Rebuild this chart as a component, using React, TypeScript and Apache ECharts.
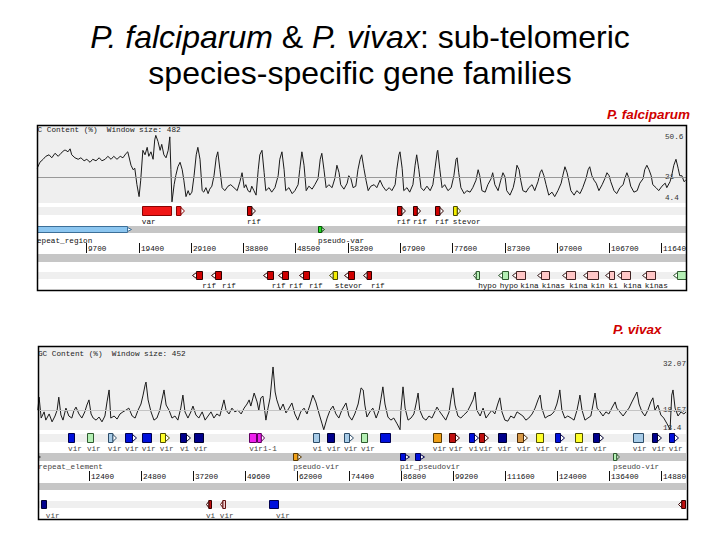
import { useEffect, useRef } from 'react';
import * as echarts from 'echarts';

// ================= P. falciparum (positions in kb, GC in %) =================
const falcGC: number[][] = [
  [0.6,27],[1.1,31],[1.7,33],[2.2,35],[2.8,36],[3.3,34],[3.9,37],[4.5,35],[5.0,37],[5.6,39],[5.9,39],[6.3,38],[6.7,40],[7.0,36],
  [7.6,34],[8.2,33],[8.7,34],[9.3,32],[9.8,33],[10.4,31],[10.9,33],[11.5,32],[12.1,34],[12.6,32],[13.2,33],[13.7,35],[14.3,33],
  [14.8,35],[15.4,33],[16.0,35],[16.5,34],[17.1,37],[17.4,38],[18.0,29],[18.4,26],[18.7,27],[19.1,16],[19.5,8],[19.8,19],[20.2,39],
  [20.6,36],[21.0,41],[21.3,35],[21.7,38],[22.1,33],[22.4,46],[22.6,49],[23.0,45],[23.4,39],[23.7,43],[24.1,36],[24.5,34],[24.9,39],
  [25.2,48],[25.4,26],[25.6,4.5],[26.0,16],[26.3,22],[26.7,28],[27.1,31],[27.5,26],[27.8,19],[28.2,8],[28.6,12],[28.9,9],[29.3,11],
  [29.7,22],[30.1,36],[30.4,41],[30.8,33],[31.2,12],[31.5,11],[31.9,14],[32.3,10],[32.6,13],[33.0,15],[33.4,22],[33.8,34],[34.1,38],
  [34.5,26],[34.9,14],[35.4,12],[36.0,15],[36.5,16],[37.1,14],[37.7,12],[38.2,18],[38.6,24],[39.0,14],[39.3,16],[39.7,12],[40.1,11],
  [40.4,15],[40.8,12],[41.2,9],[41.6,26],[41.9,36],[42.3,39],[42.7,24],[43.0,12],[43.6,14],[44.1,11],[44.7,14],[45.3,22],[45.6,33],
  [46.0,38],[46.4,26],[46.7,12],[47.3,14],[47.9,10],[48.4,12],[49.0,16],[49.3,26],[49.7,38],[50.1,29],[50.5,12],[51.0,15],[51.6,13],
  [52.1,16],[52.7,20],[53.1,33],[53.4,37],[53.8,26],[54.2,14],[54.7,16],[55.3,14],[55.8,20],[56.2,29],[56.6,24],[56.9,16],[57.5,13],
  [58.1,17],[58.4,22],[58.8,20],[59.2,14],[59.7,15],[60.1,26],[60.5,33],[60.8,36],[61.2,27],[61.6,19],[62.0,12],[62.5,15],[63.1,16],
  [63.6,14],[64.2,19],[64.7,15],[65.3,12],[65.9,14],[66.4,12],[67.0,16],[67.3,26],[67.7,36],[67.9,38],[68.3,27],[68.6,12],[69.2,14],
  [69.7,11],[70.3,16],[70.7,29],[71.0,36],[71.4,26],[71.8,14],[72.3,12],[72.9,15],[73.5,12],[74.0,16],[74.4,27],[74.8,38],[74.9,39],
  [75.3,26],[75.7,14],[76.2,16],[76.8,12],[77.4,14],[77.9,22],[78.3,33],[78.5,34],[78.8,24],[79.2,14],[79.8,10],[80.3,12],[80.9,11],
  [81.4,14],[82.0,19],[82.4,26],[82.7,22],[83.1,12],[83.7,11],[84.2,16],[84.8,20],[85.1,24],[85.5,16],[86.1,12],[86.6,19],[87.0,24],
  [87.4,21],[87.7,12],[88.3,9],[88.9,14],[89.2,19],[89.6,29],[90.0,26],[90.3,19],[90.7,12],[91.3,11],[91.8,14],[92.4,16],[92.9,12],
  [93.5,18],[93.9,24],[94.2,26],[94.6,22],[95.0,16],[95.5,9],[96.1,11],[96.6,8],[97.2,12],[97.8,17],[98.1,22],[98.5,28],[98.9,24],
  [99.2,19],[99.6,12],[100.2,9],[100.7,12],[101.3,10],[101.8,14],[102.4,20],[102.8,26],[103.1,28],[103.5,22],[103.9,19],[104.3,17],
  [104.8,12],[105.4,16],[105.9,20],[106.3,24],[106.7,22],[107.0,18],[107.6,12],[108.1,10],[108.7,14],[109.3,16],[109.6,20],[110.0,24],
  [110.4,20],[110.7,15],[111.3,11],[111.9,12],[112.4,17],[113.0,20],[113.3,26],[113.7,29],[114.1,26],[114.5,22],[114.8,16],[115.4,14],
  [115.9,12],[116.5,15],[117.1,17],[117.4,14],[118.0,18],[118.3,22],[118.7,29],[119.1,33],[119.5,27],[119.8,22],[120.2,22],[120.6,18],
  [120.9,19]
];
const falcGCScale = [50.6, 21, 4.4]; // max, average, min
const falcTicks = [9700, 19400, 29100, 38800, 48500, 58200, 67900, 77600, 87300, 97000, 106700, 116400];
// [start kb, end kb, track, family, arrow]
const falcFeatures: any[][] = [
  [20.0, 25.4, 'F', 'var', 0], [26.3, 27.8, 'F', 'var', 1], [39.5, 41.0, 'F', 'rif', 1],
  [67.3, 68.8, 'F', 'rif', 1], [70.3, 71.6, 'F', 'rif', 1], [74.4, 75.9, 'F', 'rif', 1], [77.7, 79.0, 'F', 'stevor', 1],
  [-1.0, 18.0, 'S', 'repeat', 1], [52.7, 53.8, 'S', 'pvar', 1],
  [29.3, 31.2, 'R', 'rif', 1], [32.8, 34.7, 'R', 'rif', 1], [42.5, 44.3, 'R', 'rif', 1], [45.3, 47.1, 'R', 'rif', 1],
  [49.2, 51.0, 'R', 'rif', 1], [54.7, 56.2, 'R', 'stevor', 1], [57.5, 59.4, 'R', 'rif', 1], [61.0, 62.5, 'R', 'rif', 1],
  [81.4, 82.5, 'R', 'hypo', 1], [86.1, 87.9, 'R', 'hypo', 1], [88.7, 91.1, 'R', 'kina', 1], [93.3, 95.5, 'R', 'kina', 1],
  [97.9, 100.4, 'R', 'kina', 1], [101.8, 104.6, 'R', 'kina', 1], [105.9, 107.6, 'R', 'kina', 1], [108.1, 110.5, 'R', 'kina', 1],
  [112.8, 115.2, 'R', 'kina', 1], [118.5, 121.5, 'R', 'hypo', 1]
];
// [kb, text, track]
const falcLabels: any[][] = [
  [20.0, 'var', 'F'], [39.5, 'rif', 'F'], [67.3, 'rif', 'F'], [70.3, 'rif', 'F'], [74.4, 'rif', 'F'], [77.7, 'stevor', 'F'],
  [-0.3, 'repeat_region', 'S'], [52.7, 'pseudo-var', 'S'],
  [31.2, 'rif', 'R'], [34.9, 'rif', 'R'], [44.1, 'rif', 'R'], [47.3, 'rif', 'R'], [51.0, 'rif', 'R'], [55.8, 'stevor', 'R'],
  [62.5, 'rif', 'R'], [82.4, 'hypo', 'R'], [86.4, 'hypo', 'R'], [90.2, 'kina', 'R'], [94.2, 'kinas', 'R'], [99.3, 'kina', 'R'],
  [103.3, 'kin', 'R'], [106.6, 'ki', 'R'], [109.3, 'kina', 'R'], [113.3, 'kinas', 'R']
];

// ================= P. vivax =================
const vivaxGC: number[][] = [
  [0.2,18.6],[0.5,22.4],[1.0,16.3],[1.7,18.1],[2.1,15.7],[2.9,17.5],[3.6,15.2],[4.3,16.9],[4.8,18.6],[5.2,22.4],[5.7,17.2],[6.2,15.7],
  [6.9,19.2],[7.6,16.9],[8.3,16.3],[8.8,18.4],[9.3,19.5],[10.0,17.5],[10.7,16.3],[11.4,18.1],[11.9,20.1],[12.4,21.6],[12.9,17.5],
  [13.4,16.3],[14.1,15.7],[14.8,16.6],[15.5,15.2],[16.2,16.9],[16.7,21.0],[17.2,24.5],[17.6,16.3],[18.4,16.9],[19.1,16.0],[19.8,17.5],
  [20.5,18.1],[21.2,18.6],[21.9,19.2],[22.7,16.9],[23.4,16.3],[24.1,18.6],[24.8,20.4],[25.3,23.0],[25.8,26.0],[26.0,26.8],[26.5,21.6],
  [27.2,18.1],[27.9,15.7],[28.6,16.3],[29.3,18.6],[29.8,21.6],[30.3,24.5],[30.8,20.1],[31.5,18.6],[32.2,16.3],[32.9,16.9],[33.6,15.7],
  [34.3,19.2],[34.8,23.0],[35.3,18.1],[36.0,16.3],[36.7,18.1],[37.2,19.8],[37.9,17.2],[38.6,16.3],[39.4,18.1],[40.1,15.7],[40.8,16.9],
  [41.5,18.1],[42.2,16.3],[42.9,17.5],[43.6,16.9],[44.1,19.2],[44.6,21.6],[45.1,18.6],[45.8,17.5],[46.5,19.2],[47.2,18.1],[47.9,18.6],
  [48.7,17.5],[49.4,19.2],[50.1,20.4],[50.6,21.6],[51.0,19.8],[51.8,23.6],[52.5,21.0],[52.9,18.6],[53.4,22.2],[53.9,22.7],[54.6,15.7],
  [55.1,19.2],[55.6,22.2],[56.0,27.4],[56.3,31.2],[56.8,23.9],[57.2,21.6],[58.0,18.6],[58.7,20.4],[59.4,17.8],[60.1,19.2],[60.8,20.7],
  [61.5,17.5],[62.2,15.7],[62.9,18.1],[63.7,19.2],[64.4,17.5],[65.1,20.1],[65.8,23.0],[66.5,21.0],[67.3,17.5],[68.0,14.6],[68.4,12.9],
  [69.2,16.3],[69.9,18.6],[70.6,19.8],[71.3,17.5],[72.0,16.3],[72.7,18.6],[73.7,20.7],[74.4,16.9],[75.1,15.7],[75.8,17.5],[76.6,20.4],
  [77.3,25.1],[77.8,24.5],[78.2,20.1],[78.7,16.6],[79.4,18.1],[80.1,19.2],[80.9,16.3],[81.6,18.6],[82.0,21.6],[82.5,25.4],[83.0,20.4],
  [83.7,16.6],[84.4,15.7],[85.1,16.3],[85.9,14.6],[86.6,12.9],[86.8,18.6],[87.3,25.4],[87.8,19.2],[88.5,15.7],[89.2,16.3],[89.9,17.5],
  [90.4,20.4],[90.9,23.6],[91.3,18.6],[92.1,16.3],[92.8,15.7],[93.5,16.9],[94.2,16.3],[94.9,18.1],[95.4,19.5],[96.1,18.1],[96.8,16.9],
  [97.5,15.7],[98.3,18.1],[98.7,21.6],[99.2,25.1],[99.7,20.1],[100.4,16.9],[101.1,16.3],[101.8,17.2],[102.6,18.1],[103.3,19.8],
  [104.0,21.6],[104.5,23.9],[104.9,18.6],[105.7,16.9],[106.4,19.2],[107.1,16.3],[107.8,17.5],[108.5,18.6],[109.2,17.5],[109.9,20.4],
  [110.4,22.2],[110.9,18.1],[111.6,15.7],[112.3,15.4],[113.0,16.9],[113.8,16.3],[114.5,18.1],[115.2,17.5],[115.9,16.9],[116.6,15.7],
  [117.3,16.3],[118.1,17.5],[118.8,19.2],[119.5,21.6],[120.0,23.0],[120.4,19.2],[121.2,16.3],[121.9,16.9],[122.6,17.2],[123.3,18.1],
  [124.0,20.4],[124.5,23.0],[124.7,24.5],[125.2,18.6],[125.9,16.3],[126.6,16.9],[127.4,16.3],[128.1,15.7],[128.8,18.6],[129.3,21.6],
  [129.5,23.0],[130.0,18.6],[130.7,15.7],[131.4,16.3],[132.1,16.9],[132.6,20.1],[133.1,23.6],[133.6,19.2],[134.3,18.1],[135.0,16.9],
  [135.7,18.1],[136.4,17.5],[137.1,19.2],[137.9,21.0],[138.3,19.2],[139.0,18.1],[139.8,16.9],[140.5,18.1],[141.2,19.2],[141.9,21.0],
  [142.6,22.7],[143.1,23.9],[143.6,20.4],[144.3,18.1],[145.0,16.9],[145.7,18.6],[146.4,21.0],[146.9,22.2],[147.4,18.6],[148.1,20.1],
  [148.8,17.2],[149.5,16.3],[150.3,14.6],[151.0,12.9],[151.4,23.0],[151.7,24.5],[152.2,19.2],[152.9,16.9],[153.6,18.1],[154.3,17.5],
  [154.8,18.1]
];
const vivaxGCScale = [32.07, 18.57, 13.4];
const vivaxTicks = [12400, 24800, 37200, 49600, 62000, 74400, 86800, 99200, 111600, 124000, 136400, 148800];
const vivaxFeatures: any[][] = [
  [7.4, 8.8, 'F', 'blue', 0], [11.9, 13.4, 'F', 'lgreen', 0], [16.9, 18.8, 'F', 'lblue', 1], [21.0, 23.6, 'F', 'blue', 1],
  [25.0, 27.2, 'F', 'blue', 0], [29.3, 31.5, 'F', 'yellow', 1], [34.1, 36.5, 'F', 'navy', 1], [37.4, 39.6, 'F', 'navy', 0],
  [50.6, 52.2, 'F', 'magenta', 0], [52.5, 54.1, 'F', 'magenta', 1], [65.8, 67.3, 'F', 'lblue', 0], [69.2, 70.8, 'F', 'navy', 0],
  [73.2, 75.4, 'F', 'lblue', 1], [77.3, 78.7, 'F', 'lgreen', 0], [81.8, 84.2, 'F', 'blue', 0], [94.4, 96.4, 'F', 'orange', 0],
  [98.3, 100.6, 'F', 'dred', 1], [103.0, 105.2, 'F', 'blue', 1], [105.4, 107.6, 'F', 'dred', 1], [109.9, 111.9, 'F', 'navy', 0],
  [114.5, 116.9, 'F', 'tan', 1], [119.0, 120.7, 'F', 'yellow', 0], [123.5, 125.7, 'F', 'blue', 1], [128.3, 130.0, 'F', 'yellow', 0],
  [132.6, 135.0, 'F', 'navy', 1], [142.1, 144.5, 'F', 'lblue', 0], [146.7, 148.8, 'F', 'navy', 1], [150.7, 152.9, 'F', 'blue', 1],
  [-2.0, 0.7, 'S', 'white', 1], [61.1, 63.0, 'S', 'orange', 1], [86.6, 88.7, 'S', 'blue', 1], [90.2, 92.3, 'S', 'blue', 1],
  [137.4, 138.8, 'S', 'lgreen', 1],
  [1.0, 2.1, 'R', 'navy', 0], [40.3, 41.5, 'R', 'dred', 1], [43.6, 44.8, 'R', 'pred', 1], [55.3, 57.5, 'R', 'blue', 0],
  [152.9, 154.5, 'R', 'dred', 1]
];
const vivaxLabels: any[][] = [
  [7.4, 'vir', 'F'], [11.9, 'vir', 'F'], [16.9, 'vir', 'F'], [21.0, 'vir', 'F'], [25.0, 'vir', 'F'], [29.3, 'vir', 'F'],
  [34.1, 'vi', 'F'], [37.4, 'vir', 'F'], [50.6, 'vir1-1', 'F'], [65.8, 'vi', 'F'], [69.2, 'vir', 'F'], [73.2, 'vir', 'F'],
  [77.3, 'vir', 'F'], [94.4, 'vir', 'F'], [98.3, 'vir', 'F'], [103.0, 'vi', 'F'], [105.4, 'vir', 'F'], [109.9, 'vir', 'F'],
  [114.5, 'vir', 'F'], [119.0, 'vir', 'F'], [123.5, 'vir', 'F'], [128.3, 'vir', 'F'], [132.6, 'vir', 'F'], [142.1, 'vir', 'F'],
  [146.7, 'vir', 'F'], [150.7, 'vir', 'F'],
  [0.3, 'repeat_element', 'S'], [61.1, 'pseudo-vir', 'S'], [86.6, 'pir_pseudovir', 'S'], [137.4, 'pseudo-vir', 'S'],
  [2.1, 'vir', 'R'], [40.3, 'vi', 'R'], [43.6, 'vir', 'R'], [57.0, 'vir', 'R']
];

// ================= styles =================
const FAMILY: Record<string, string[]> = {
  var: ['#f01616', '#8a0000'], rif: ['#d00000', '#300000'], stevor: ['#f4ee00', '#4a4a00'],
  repeat: ['#8cc6f0', '#3c6f98'], pvar: ['#22dd22', '#005500'], hypo: ['#b4f0b4', '#2f5a2f'],
  kina: ['#ffc6c6', '#402222'], blue: ['#0010dc', '#000050'], navy: ['#00008c', '#000030'],
  lblue: ['#a8cce8', '#2c4c68'], lgreen: ['#b4f0b4', '#2f5a2f'], yellow: ['#ffff2a', '#505000'],
  magenta: ['#ee22ee', '#600060'], orange: ['#f0a018', '#5a3a00'], dred: ['#c01010', '#380000'],
  pred: ['#f4d0d0', '#601010'], tan: ['#d89a48', '#4a2a08'], white: ['#ffffff', '#444444']
};
const MONO = '7.7px "Liberation Mono", "DejaVu Sans Mono", monospace';

const PANELS = [
  {
    left: 37, width: 649, gcTop: 126, gcBottom: 203, gcValPix: [133, 202], trTop: 203, trBottom: 290,
    view: [0.56, 120.96], gc: falcGC, scale: falcGCScale, ticks: falcTicks, feats: falcFeatures, labels: falcLabels,
    header: 'GC Content (%)  Window size: 482', headerDx: -4, headerDy: 4,
    scaleDx: 21, scaleAlign: ['top', 'middle', 'bottom'], textColor: '#111', frame: [37, 125, 649, 165],
    feat: { F: [3, 13], S: [23, 30], R: [68, 77] },
    band: [['F', 4, 12, '#efefef'], ['S', 23, 30, '#c6c6c6'], ['r', 51, 59, '#c6c6c6'], ['R', 69, 76, '#efefef']],
    lab: { F: 19, S: 38, R: 83 }, tick: [40, 50], tickLab: 45.5
  },
  {
    left: 38, width: 648, gcTop: 347, gcBottom: 430, gcValPix: [364, 428], trTop: 430, trBottom: 519,
    view: [0.24, 154.8], gc: vivaxGC, scale: vivaxGCScale, ticks: vivaxTicks, feats: vivaxFeatures, labels: vivaxLabels,
    header: 'GC Content (%)  Window size: 452', headerDx: 0, headerDy: 7,
    scaleDx: 23, scaleAlign: ['middle', 'middle', 'middle'], textColor: '#444', frame: [38, 346, 649, 173],
    feat: { F: [3, 13], S: [23, 31], R: [70, 79] },
    band: [['F', 4, 12, '#efefef'], ['S', 23, 31, '#c6c6c6'], ['r', 53, 60, '#c6c6c6'], ['R', 71, 78, '#efefef']],
    lab: { F: 19, S: 37, R: 85.5 }, tick: [41, 51], tickLab: 46.5
  }
];

function buildOption() {
  const grid: any[] = [];
  const xAxis: any[] = [];
  const yAxis: any[] = [];
  const series: any[] = [];
  const graphic: any[] = [];

  PANELS.forEach((P, pi) => {
    const gi = pi * 2; // GC grid
    const ti = pi * 2 + 1; // track grid
    const per = (P.scale[0] - P.scale[2]) / (P.gcValPix[1] - P.gcValPix[0]);
    const yMax = P.scale[0] + (P.gcValPix[0] - P.gcTop) * per;
    const yMin = P.scale[2] - (P.gcBottom - P.gcValPix[1]) * per;
    grid.push({ left: P.left, top: P.gcTop, width: P.width, height: P.gcBottom - P.gcTop, show: true, backgroundColor: '#efefef', borderWidth: 0 });
    grid.push({ left: P.left, top: P.trTop, width: P.width, height: P.trBottom - P.trTop, show: false });
    xAxis.push({ gridIndex: gi, type: 'value', min: P.view[0], max: P.view[1], show: false });
    xAxis.push({ gridIndex: ti, type: 'value', min: P.view[0], max: P.view[1], show: false });
    yAxis.push({ gridIndex: gi, type: 'value', min: yMin, max: yMax, show: false });
    yAxis.push({ gridIndex: ti, type: 'value', min: 0, max: P.trBottom - P.trTop, inverse: true, show: false });

    // GC content curve + average line
    series.push({
      type: 'line', xAxisIndex: gi, yAxisIndex: gi, data: P.gc, symbol: 'none', clip: true, z: 3,
      lineStyle: { color: '#1a1a1a', width: 1 }, silent: true,
      markLine: { silent: true, symbol: 'none', label: { show: false }, lineStyle: { color: pi === 0 ? '#999' : '#c4c4c4', width: 1, type: 'solid' }, data: [{ yAxis: P.scale[1] }] }
    });
    // header
    series.push({
      type: 'custom', xAxisIndex: gi, yAxisIndex: gi, clip: true, z: 4, silent: true,
      data: [[P.view[0], yMax]],
      renderItem: (_p: any, api: any) => {
        const c = api.coord([P.view[0], yMax]);
        return { type: 'text', x: c[0] + P.headerDx, y: c[1] + P.headerDy, style: { text: P.header, font: MONO, fill: '#222', align: 'left', verticalAlign: 'middle' } };
      }
    });
    // GC scale labels
    series.push({
      type: 'custom', xAxisIndex: gi, yAxisIndex: gi, clip: false, z: 4, silent: true,
      data: P.scale.map((v) => [P.view[1], v]),
      renderItem: (p: any, api: any) => {
        const v = P.scale[p.dataIndex];
        const c = api.coord([P.view[1], v]);
        return { type: 'text', x: c[0] - P.scaleDx, y: c[1], style: { text: String(v), font: MONO, fill: '#333', align: 'left', verticalAlign: P.scaleAlign[p.dataIndex] } };
      }
    });
    // track bands
    series.push({
      type: 'custom', xAxisIndex: ti, yAxisIndex: ti, clip: true, z: 1, silent: true,
      data: P.band.map((b: any) => [P.view[0], b[1]]),
      renderItem: (p: any, api: any) => {
        const b: any = P.band[p.dataIndex];
        const a = api.coord([P.view[0], b[1]]);
        const e = api.coord([P.view[1], b[2]]);
        return { type: 'rect', shape: { x: a[0], y: a[1], width: e[0] - a[0], height: e[1] - a[1] }, style: { fill: b[3] } };
      }
    });
    // features
    series.push({
      type: 'custom', xAxisIndex: ti, yAxisIndex: ti, clip: true, z: 3, silent: true,
      data: P.feats.map((f) => [f[0], f[1]]),
      renderItem: (p: any, api: any) => {
        const f = P.feats[p.dataIndex];
        const tr = f[2];
        const rows = (P.feat as any)[tr];
        const a = api.coord([f[0], rows[0]]);
        const b = api.coord([f[1], rows[1]]);
        const x0 = Math.round(a[0]) + 0.5;
        const x1 = Math.round(b[0]) + 0.5;
        const y0 = Math.round(a[1]) + 0.5;
        const y1 = Math.round(b[1]) - 0.5;
        const ym = (y0 + y1) / 2;
        const [fill, stroke] = FAMILY[f[3]];
        const aw = f[4] ? Math.min(4, (x1 - x0) * 0.45) : 0;
        const fwd = tr === 'F' || tr === 'S';
        const children: any[] = [];
        if (fwd) {
          children.push({ type: 'rect', shape: { x: x0, y: y0, width: Math.max(1, x1 - x0 - aw), height: y1 - y0 }, style: { fill, stroke, lineWidth: 1 } });
          if (aw) children.push({ type: 'polygon', shape: { points: [[x1 - aw, y0 + 1], [x1, ym], [x1 - aw, y1 - 1]] }, style: { fill: '#ffffff', stroke, lineWidth: 1 } });
        } else {
          children.push({ type: 'rect', shape: { x: x0 + aw, y: y0, width: Math.max(1, x1 - x0 - aw), height: y1 - y0 }, style: { fill, stroke, lineWidth: 1 } });
          if (aw) children.push({ type: 'polygon', shape: { points: [[x0 + aw, y0 + 1], [x0, ym], [x0 + aw, y1 - 1]] }, style: { fill: '#ffffff', stroke, lineWidth: 1 } });
        }
        return { type: 'group', children };
      }
    });
    // feature labels
    series.push({
      type: 'custom', xAxisIndex: ti, yAxisIndex: ti, clip: true, z: 4, silent: true,
      data: P.labels.map((l) => [l[0], 0]),
      renderItem: (p: any, api: any) => {
        const l = P.labels[p.dataIndex];
        const c = api.coord([l[0], (P.lab as any)[l[2]]]);
        return { type: 'text', x: c[0], y: c[1], style: { text: l[1], font: MONO, fill: P.textColor, align: 'left', verticalAlign: 'middle' } };
      }
    });
    // scale ticks
    series.push({
      type: 'custom', xAxisIndex: ti, yAxisIndex: ti, clip: true, z: 4, silent: true,
      data: P.ticks.map((t) => [t / 1000, 0]),
      renderItem: (p: any, api: any) => {
        const t = P.ticks[p.dataIndex];
        const a = api.coord([t / 1000, P.tick[0]]);
        const b = api.coord([t / 1000, P.tick[1]]);
        const m = api.coord([t / 1000, P.tickLab]);
        const x = Math.round(a[0]) + 0.5;
        return {
          type: 'group', children: [
            { type: 'line', shape: { x1: x, y1: a[1], x2: x, y2: b[1] }, style: { stroke: '#111', lineWidth: 1 } },
            { type: 'text', x: x + 1.5, y: m[1], style: { text: String(t), font: MONO, fill: '#111', align: 'left', verticalAlign: 'middle' } }
          ]
        };
      }
    });

    graphic.push({
      type: 'rect', z: 100, silent: true,
      shape: { x: P.frame[0] + 0.5, y: P.frame[1] + 0.5, width: P.frame[2], height: P.frame[3] },
      style: { fill: 'none', stroke: '#000', lineWidth: 1.5 }
    });
  });

  const SANS = '"Liberation Sans", Arial, sans-serif';
  return {
    animation: false,
    backgroundColor: '#ffffff',
    title: [
      {
        text: '{i|P. falciparum} & {i|P. vivax}: sub-telomeric', left: 'center', top: 20, padding: 0,
        textStyle: { fontFamily: SANS, fontSize: 32, fontWeight: 'normal', color: '#000', lineHeight: 34,
          rich: { i: { fontFamily: SANS, fontSize: 32, fontStyle: 'italic', color: '#000', lineHeight: 34 } } }
      },
      {
        text: 'species-specific gene families', left: 'center', top: 56, padding: 0,
        textStyle: { fontFamily: SANS, fontSize: 32, fontWeight: 'normal', color: '#000', lineHeight: 34 }
      },
      {
        text: 'P. falciparum', left: 607, top: 106, padding: 0,
        textStyle: { fontFamily: SANS, fontSize: 13.5, fontStyle: 'italic', fontWeight: 'bold', color: '#d00000', lineHeight: 16 }
      },
      {
        text: 'P. vivax', left: 613, top: 321, padding: 0,
        textStyle: { fontFamily: SANS, fontSize: 13.5, fontStyle: 'italic', fontWeight: 'bold', color: '#d00000', lineHeight: 16 }
      }
    ],
    grid, xAxis, yAxis, series, graphic
  };
}

export default function App() {
  const ref = useRef<HTMLDivElement>(null);
  useEffect(() => {
    if (!ref.current) return;
    const chart = echarts.init(ref.current, undefined, { renderer: 'svg' });
    chart.setOption(buildOption() as any);
    return () => chart.dispose();
  }, []);
  return <div ref={ref} style={{ position: 'fixed', left: 0, top: 0, width: 720, height: 540, background: '#fff' }} />;
}
